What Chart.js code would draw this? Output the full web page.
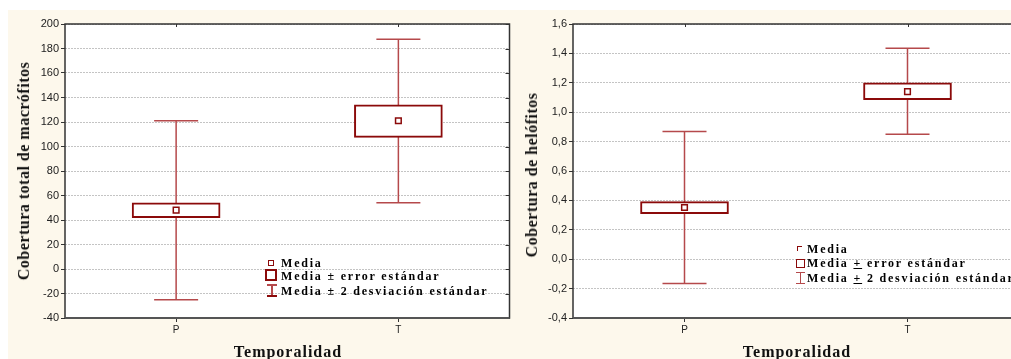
<!DOCTYPE html>
<html>
<head>
<meta charset="utf-8">
<script src="https://cdn.jsdelivr.net/npm/chart.js@4"></script>
<style>
  html, body { margin: 0; padding: 0; background: #ffffff; width: 1011px; height: 359px; overflow: hidden; position: relative; }
  .panel { position: absolute; top: 10px; height: 349px; background: #fdf8ec; }
  #leftPanel { left: 8px; width: 507px; }
  #rightPanel { left: 511px; width: 520px; }
  .txt { position: absolute; font-family: "Liberation Serif", "Times New Roman", serif; font-weight: bold; color: #111; white-space: nowrap; }
  .xtitle { font-size: 16px; line-height: 16px; letter-spacing: 1px; transform: translate(-50%, -50%); }
  .ytitle { font-size: 16px; line-height: 16px; letter-spacing: 0.5px; transform: translate(-50%, -50%) rotate(-90deg); }
  .leg { font-size: 12px; line-height: 14px; letter-spacing: 1.8px; color: #000; }
  .icon { position: absolute; box-sizing: border-box; }
</style>
</head>
<body>
<div class="panel" id="leftPanel"><canvas id="chartMacro"></canvas></div>
<div class="panel" id="rightPanel"><canvas id="chartHelo"></canvas></div>

<div class="txt ytitle" style="left:24px; top:171px;">Cobertura total de macrófitos</div>
<div class="txt xtitle" style="left:288px; top:352px;">Temporalidad</div>
<div class="txt ytitle" style="left:532px; top:175px;">Cobertura de helófitos</div>
<div class="txt xtitle" style="left:797px; top:352px;">Temporalidad</div>

<!-- leyenda izquierda -->
<div class="icon" style="left:268px; top:260px; width:6px; height:6px; border:1.5px solid #8b0a0a; background:#fff;"></div>
<div class="icon" style="left:265px; top:269px; width:12px; height:12px; border:2px solid #8b0a0a; background:#fff;"></div>
<div class="icon" style="left:271px; top:284px; width:1.5px; height:12px; background:#b5494b;"></div>
<div class="icon" style="left:267px; top:284px; width:10px; height:1.5px; background:#b5494b;"></div>
<div class="icon" style="left:267px; top:295px; width:10px; height:1.5px; background:#8b0a0a;"></div>
<div class="txt leg" style="left:281px; top:256px;">Media</div>
<div class="txt leg" style="left:281px; top:269px;">Media ± error estándar</div>
<div class="txt leg" style="left:281px; top:284px;">Media ± 2 desviación estándar</div>

<!-- leyenda derecha -->
<div class="icon" style="left:797px; top:246px; width:5px; height:5px; border-top:1.5px solid #8b0a0a; border-left:1.5px solid #8b0a0a;"></div>
<div class="icon" style="left:796px; top:259px; width:9px; height:9px; border:1.2px solid #8b0a0a; background:#fff;"></div>
<div class="icon" style="left:800px; top:272px; width:1.2px; height:12px; background:#b5494b;"></div>
<div class="icon" style="left:796px; top:272px; width:9px; height:1.2px; background:#b5494b;"></div>
<div class="icon" style="left:796px; top:283px; width:9px; height:1.2px; background:#b5494b;"></div>
<div class="txt leg" style="left:807px; top:242px;">Media</div>
<div class="txt leg" style="left:807px; top:256px;">Media <u>+</u> error estándar</div>
<div class="txt leg" style="left:807px; top:271px;">Media <u>+</u> 2 desviación estándar</div>

<script>
const categories = ['P', 'T'];

// Cobertura total de macrófitos
const macroTicks = [-40, -20, 0, 20, 40, 60, 80, 100, 120, 140, 160, 180, 200];
const macroMedia = [48, 121];
const macroErrLow = [42, 107.5];
const macroErrHigh = [54, 134];
const macroDevLow = [-25, 54];
const macroDevHigh = [121, 187.5];

// Cobertura de helófitos
const heloTicks = [-0.4, -0.2, 0, 0.2, 0.4, 0.6, 0.8, 1.0, 1.2, 1.4, 1.6];
const heloMedia = [0.352, 1.14];
const heloErrLow = [0.31, 1.085];
const heloErrHigh = [0.392, 1.2];
const heloDevLow = [-0.165, 0.85];
const heloDevHigh = [0.868, 1.435];

const boxColor = '#8b0a0a';
const whiskerColor = '#b5494b';

function makeChart(id, yTicks, media, errLow, errHigh, devLow, devHigh, yWidth, padRight, fmt) {
    const whiskers = {
        id: 'whiskers',
        beforeDraw(chart) {
            const a = chart.chartArea, ctx = chart.ctx;
            ctx.save();
            ctx.fillStyle = '#ffffff';
            ctx.fillRect(a.left, a.top, a.right - a.left, a.bottom - a.top);
            ctx.restore();
        },
        beforeDatasetsDraw(chart) {
            const x = chart.scales.x, y = chart.scales.y, ctx = chart.ctx;
            ctx.save();
            ctx.strokeStyle = whiskerColor;
            ctx.lineWidth = 1.5;
            ctx.beginPath();
            categories.forEach((c, i) => {
                const px = x.getPixelForValue(i);
                const top = y.getPixelForValue(devHigh[i]);
                const bot = y.getPixelForValue(devLow[i]);
                ctx.moveTo(px, top); ctx.lineTo(px, bot);
                ctx.moveTo(px - 22, top); ctx.lineTo(px + 22, top);
                ctx.moveTo(px - 22, bot); ctx.lineTo(px + 22, bot);
            });
            ctx.stroke();
            ctx.restore();
        },
        afterDraw(chart) {
            const a = chart.chartArea, ctx = chart.ctx;
            const x = chart.scales.x, y = chart.scales.y;
            ctx.save();
            // marcas interiores a la derecha y arriba
            ctx.strokeStyle = '#333333';
            ctx.lineWidth = 1;
            ctx.beginPath();
            yTicks.forEach(v => {
                const py = Math.round(y.getPixelForValue(v)) + 0.5;
                ctx.moveTo(a.right - 4, py); ctx.lineTo(a.right, py);
            });
            categories.forEach((c, i) => {
                const px = Math.round(x.getPixelForValue(i)) + 0.5;
                ctx.moveTo(px, a.top); ctx.lineTo(px, a.top + 3);
            });
            ctx.stroke();
            ctx.lineWidth = 1.5;
            ctx.strokeRect(a.left, a.top, a.right - a.left, a.bottom - a.top);
            ctx.strokeStyle = '#555555';
            ctx.lineWidth = 2;
            ctx.beginPath();
            ctx.moveTo(a.left, a.bottom); ctx.lineTo(a.right, a.bottom);
            ctx.stroke();
            ctx.restore();
        }
    };

    return new Chart(document.getElementById(id).getContext('2d'), {
        data: {
            labels: categories,
            datasets: [{
                type: 'bar',
                data: errLow.map((v, i) => [v, errHigh[i]]),
                backgroundColor: '#ffffff',
                borderColor: boxColor,
                borderWidth: 2,
                borderSkipped: false,
                barThickness: 88,
                order: 2
            }, {
                type: 'line',
                data: media,
                showLine: false,
                pointStyle: 'rect',
                pointRadius: 4,
                pointBackgroundColor: '#ffffff',
                pointBorderColor: boxColor,
                pointBorderWidth: 1.5,
                order: 1
            }]
        },
        options: {
            responsive: true,
            maintainAspectRatio: false,
            animation: false,
            layout: { padding: { top: 14, right: padRight, left: 0, bottom: 0 } },
            plugins: {
                legend: { display: false },
                tooltip: { enabled: false }
            },
            scales: {
                x: {
                    type: 'category',
                    offset: true,
                    grid: { drawOnChartArea: false, drawTicks: true, tickLength: 4, tickColor: '#333', offset: false },
                    border: { display: false },
                    ticks: { color: '#222', padding: 2, font: { family: 'Liberation Sans, Arial, sans-serif', size: 10 } },
                    afterFit(scale) { scale.height = 41; }
                },
                y: {
                    min: yTicks[0],
                    max: yTicks[yTicks.length - 1],
                    afterBuildTicks(scale) { scale.ticks = yTicks.map(v => ({ value: v })); },
                    grid: { color: '#c4c4c4', tickColor: '#333', tickLength: 4, lineWidth: 1 },
                    border: { display: false, dash: [2, 1] },
                    ticks: {
                        color: '#222',
                        padding: 2,
                        font: { family: 'Liberation Sans, Arial, sans-serif', size: 11 },
                        callback: fmt
                    },
                    afterFit(scale) { scale.width = yWidth; }
                }
            }
        },
        plugins: [whiskers]
    });
}

makeChart('chartMacro', macroTicks, macroMedia, macroErrLow, macroErrHigh, macroDevLow, macroDevHigh,
    57, 1, v => String(v));
makeChart('chartHelo', heloTicks, heloMedia, heloErrLow, heloErrHigh, heloDevLow, heloDevHigh,
    62, 12, v => v.toFixed(1).replace('.', ','));
</script>
</body>
</html>
